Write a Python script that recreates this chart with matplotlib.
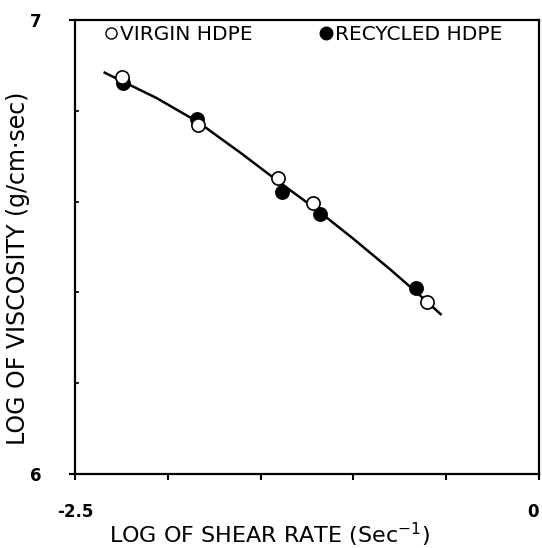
import matplotlib
matplotlib.use("Agg")
import matplotlib.pyplot as plt
from matplotlib.lines import Line2D

plt.rcParams['font.family'] = ['DejaVu Sans']
plt.rcParams['mathtext.fontset'] = 'dejavusans'

# Data
virgin_x = [-2.248, -1.836, -1.408, -1.216, -0.606]
virgin_y = [6.875, 6.769, 6.651, 6.596, 6.379]
recycled_x = [-2.240, -1.844, -1.383, -1.180, -0.665]
recycled_y = [6.861, 6.783, 6.622, 6.573, 6.409]
curve_x = [-2.34, -2.06, -1.84, -1.60, -1.40, -1.20, -1.00, -0.80, -0.64, -0.53]
curve_y = [6.884, 6.828, 6.776, 6.705, 6.643, 6.583, 6.518, 6.450, 6.393, 6.352]

x_ticks = [-2.5, -2.0, -1.5, -1.0, -0.5, 0.0]
x_ticklabels = ['-2.5', '', '', '', '', '0']
y_ticks = [6.0, 7.0]
y_ticklabels = ['6', '7']
y_minor = [6.2, 6.4, 6.6, 6.8]

fig = plt.figure(figsize=(5.42, 5.48), dpi=100)
ax = fig.add_axes([75/542, 1 - 474/548, 464/542, 454/548])

ax.plot(curve_x, curve_y, color='black', lw=1.8, zorder=2)
ax.plot(recycled_x, recycled_y, 'o', color='black', ms=9.5, mec='black', mew=1.2, zorder=3)
ax.plot(virgin_x, virgin_y, 'o', mfc='white', mec='black', ms=9.5, mew=1.2, zorder=4)

ax.set_xlim(-2.5, 0)
ax.set_ylim(6, 7)
ax.set_xticks(x_ticks)
ax.set_xticklabels(x_ticklabels)
ax.set_yticks(y_ticks)
ax.set_yticklabels(y_ticklabels)
ax.set_yticks(y_minor, minor=True)
ax.tick_params(axis='x', direction='out', length=4, width=1.5, pad=17,
               labelsize=12)
ax.tick_params(axis='y', direction='out', length=4, width=1.5, pad=20,
               labelsize=12)
ax.tick_params(axis='y', which='minor', direction='in', length=3, width=1.2)
for lab in ax.get_xticklabels() + ax.get_yticklabels():
    lab.set_fontweight('bold')
ax.get_xticklabels()[-1].set_horizontalalignment('right')

for s in ax.spines.values():
    s.set_linewidth(1.6)

ax.set_xlabel('LOG OF SHEAR RATE (Sec$^{-1}$)', fontsize=16, va='center')
ax.xaxis.set_label_coords(0.42, -0.134)
ax.set_ylabel('LOG OF VISCOSITY (g/cm·sec)', fontsize=17, va='center')
ax.yaxis.set_label_coords(-0.122, 0.454)

handles = [
    Line2D([], [], marker='o', ls='', mfc='white', mec='black', ms=8, mew=1.0),
    Line2D([], [], marker='o', ls='', mfc='black', mec='black', ms=9),
]
ax.legend(handles, ['VIRGIN HDPE', 'RECYCLED HDPE'], ncol=2, frameon=False,
          loc='upper left', bbox_to_anchor=(0.035, 1.02), handlelength=0.6,
          handletextpad=0.15, columnspacing=3.3, fontsize=14.5,
          borderaxespad=0.3)

fig.savefig('out.png', dpi=100)
